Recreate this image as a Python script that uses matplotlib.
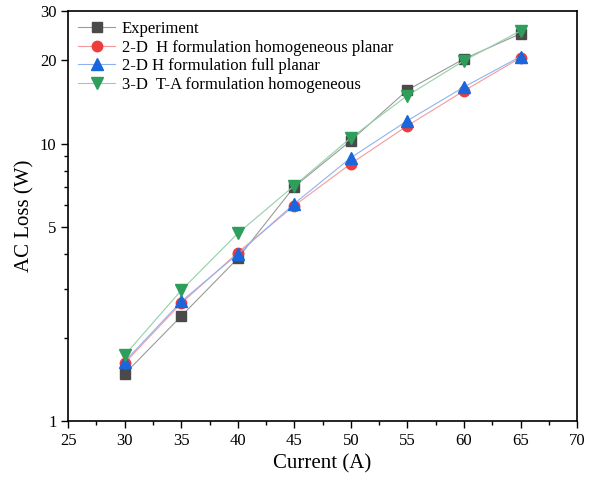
import numpy as np
import matplotlib.pyplot as plt
from matplotlib.ticker import FixedLocator, NullFormatter, FixedFormatter

plt.rcParams['font.family'] = ['Liberation Serif', 'DejaVu Serif']

current = [30, 35, 40, 45, 50, 55, 60, 65]
experiment = [1.48, 2.39, 3.86, 7.0, 10.25, 15.6, 20.2, 24.9]
h_homog = [1.62, 2.66, 4.05, 5.98, 8.47, 11.6, 15.5, 20.4]
h_full = [1.64, 2.70, 4.00, 6.08, 8.9, 12.1, 16.0, 20.6]
ta_homog = [1.73, 2.96, 4.75, 7.06, 10.5, 14.9, 19.9, 25.5]

fig = plt.figure(figsize=(5.98, 4.88), dpi=100)
ax = fig.add_axes([0.114, 0.137, 0.851, 0.840])

ax.plot(current, experiment, color='#9a9a9a', lw=0.8, marker='s', ms=7,
        mfc='#4a4a4a', mec='#4a4a4a', label='Experiment')
ax.plot(current, h_homog, color='#f59a9a', lw=0.8, marker='o', ms=7.5,
        mfc='#ee3b3b', mec='#ee3b3b', label='2-D  H formulation homogeneous planar')
ax.plot(current, h_full, color='#8fb3f0', lw=0.8, marker='^', ms=8,
        mfc='#1a66dd', mec='#1a66dd', label='2-D H formulation full planar')
ax.plot(current, ta_homog, color='#93d1a8', lw=0.8, marker='v', ms=8,
        mfc='#2e9e5b', mec='#2e9e5b', label='3-D  T-A formulation homogeneous')

ax.set_yscale('log')
ax.set_xlim(25, 70)
ax.set_ylim(1, 30)
ax.set_xticks(np.arange(25, 71, 5))
ax.set_xticks(np.arange(27.5, 70, 5), minor=True)
ax.yaxis.set_major_locator(FixedLocator([1, 5, 10, 20, 30]))
ax.yaxis.set_major_formatter(FixedFormatter(['1', '5', '10', '20', '30']))
ax.yaxis.set_minor_locator(FixedLocator([2, 3, 4, 6, 7, 8, 9]))
ax.yaxis.set_minor_formatter(NullFormatter())

ax.tick_params(which='major', direction='out', length=5, width=1, labelsize=12)
ax.tick_params(which='minor', direction='out', length=3, width=1)
for s in ax.spines.values():
    s.set_linewidth(1.2)

ax.set_xlabel('Current (A)', fontsize=15)
ax.set_ylabel('AC Loss (W)', fontsize=15)

ax.legend(loc='upper left', frameon=False, fontsize=12, handlelength=2.2,
          labelspacing=0.15, borderaxespad=0.2, handletextpad=0.4)

fig.savefig('out.png', dpi=100)
